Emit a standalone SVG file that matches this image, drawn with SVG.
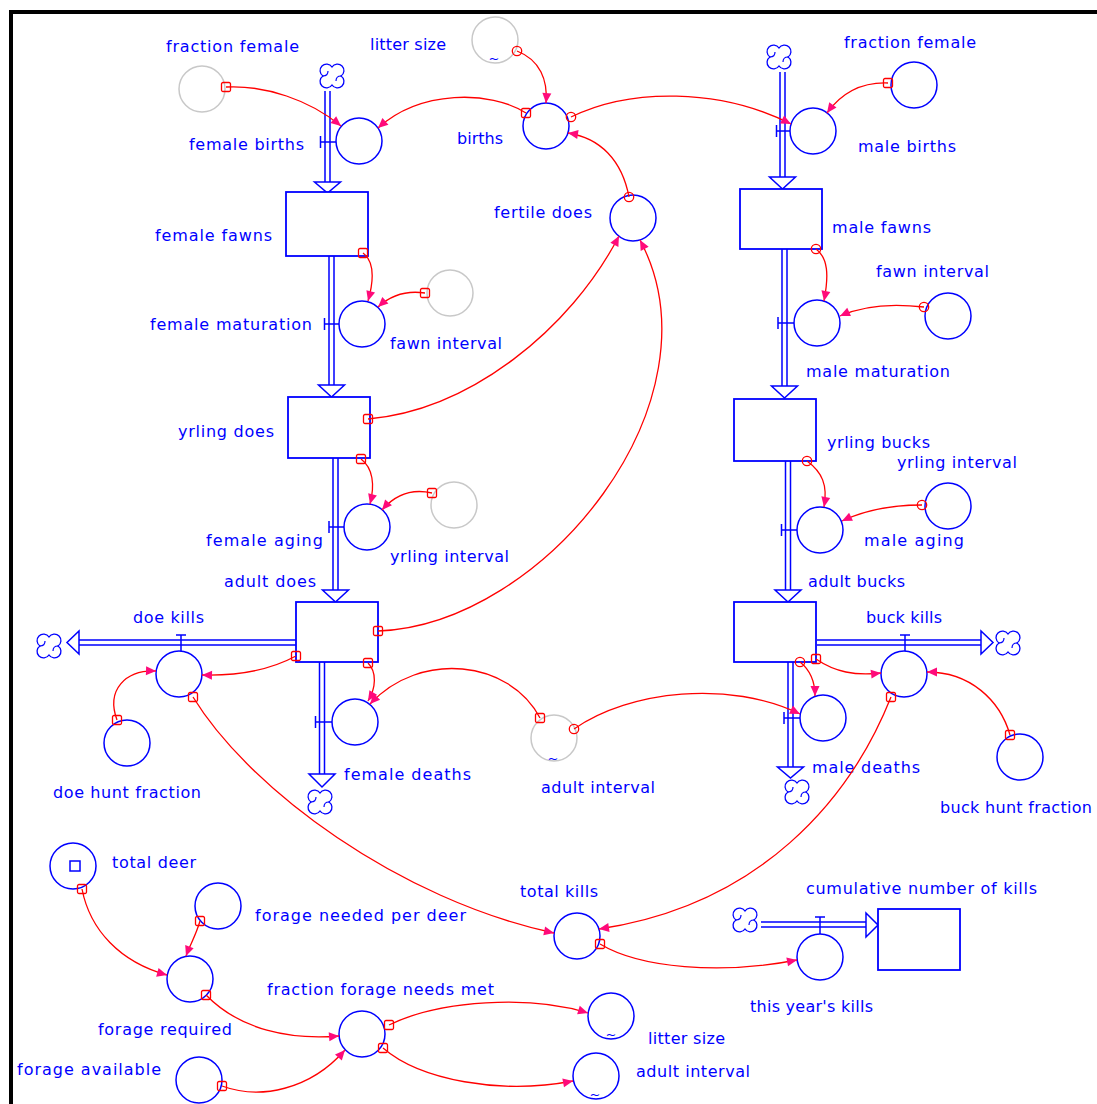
<svg xmlns="http://www.w3.org/2000/svg" width="1097" height="1104" viewBox="0 0 1097 1104">
<defs>
<style>
.t{font-family:"DejaVu Sans","Liberation Sans",sans-serif;font-size:16px;fill:#0000ff}
.tl{font-family:"DejaVu Sans",sans-serif;font-size:13px;fill:#0000ff;text-anchor:middle}
.c{fill:#fff;stroke:#0000ff;stroke-width:1.5}
.g{fill:#fff;stroke:#c8c8c8;stroke-width:1.5}
.s{fill:#fff;stroke:#0000ff;stroke-width:1.8}
.p{fill:none;stroke:#0000ff;stroke-width:1.5}
.ah{fill:#fff;stroke:#0000ff;stroke-width:1.5;stroke-linejoin:miter}
.l{fill:none;stroke:#ff0000;stroke-width:1.3}
.sq{marker-start:url(#ms);marker-end:url(#ma)}
.ci{marker-start:url(#mc);marker-end:url(#ma)}
</style>
<marker id="ma" viewBox="0 0 10 10" refX="10" refY="5" markerWidth="11" markerHeight="10" markerUnits="userSpaceOnUse" orient="auto"><path d="M0,0.5 L10,5 L0,9.5 z" fill="#ff0a7a"/></marker>
<marker id="ms" viewBox="-6 -6 12 12" refX="0" refY="0" markerWidth="12" markerHeight="12" markerUnits="userSpaceOnUse"><rect x="-4.5" y="-4.5" width="9" height="9" rx="1.5" fill="none" stroke="#ff0000" stroke-width="1.3"/></marker>
<marker id="mc" viewBox="-6 -6 12 12" refX="0" refY="0" markerWidth="12" markerHeight="12" markerUnits="userSpaceOnUse"><circle r="4.7" fill="none" stroke="#ff0000" stroke-width="1.3"/></marker>
<g id="cl">
<path d="M0,-9 A6.5,6.5 0 1 1 9,0 A6.5,6.5 0 1 1 0,9 A6.5,6.5 0 1 1 -9,0 A6.5,6.5 0 1 1 0,-9 Z" fill="#fff" stroke="#0000ff" stroke-width="1.3"/>
<path d="M-9,0 q5,0 5,-5 M9,0 q-5,0 -5,5" fill="none" stroke="#0000ff" stroke-width="1.2"/>
</g>
</defs>
<rect width="1097" height="1104" fill="#fff"/>
<path d="M9,12 H1097 M11,10 V1104" stroke="#000" stroke-width="4" fill="none"/>

<g id="cloud-female-births-source"><use href="#cl" transform="translate(332,76)"/></g>
<g id="cloud-male-births-source"><use href="#cl" transform="translate(779,57)"/></g>
<g id="cloud-female-deaths-sink"><use href="#cl" transform="translate(320,802)"/></g>
<g id="cloud-male-deaths-sink"><use href="#cl" transform="translate(797,792)"/></g>
<g id="cloud-doe-kills-sink"><use href="#cl" transform="translate(49,646)"/></g>
<g id="cloud-buck-kills-sink"><use href="#cl" transform="translate(1008,643)"/></g>
<g id="cloud-kills-source"><use href="#cl" transform="translate(745,920)"/></g>

<g id="female-births">
<path class="p" d="M325,91 V182 M330,91 V182"/>
<polygon class="ah" points="314.5,182 340.5,182 327.5,193"/>
<path class="p" d="M320.5,136 V148 M320.5,142 H336"/>
<circle class="c" cx="359" cy="141" r="23"/>
<text class="t" x="189" y="150" textLength="115" lengthAdjust="spacing">female births</text>
</g>
<g id="female-maturation">
<path class="p" d="M329,256 V385 M334,256 V385"/>
<polygon class="ah" points="318.5,385 344.5,385 331.5,397"/>
<path class="p" d="M324.5,318 V330 M324.5,324 H339"/>
<circle class="c" cx="362" cy="324" r="23"/>
<text class="t" x="150" y="330" textLength="162" lengthAdjust="spacing">female maturation</text>
</g>
<g id="female-aging">
<path class="p" d="M333,458 V590 M338,458 V590"/>
<polygon class="ah" points="322.5,590 348.5,590 335.5,602"/>
<path class="p" d="M329,521 V533 M329,527 H344"/>
<circle class="c" cx="367" cy="527" r="23"/>
<text class="t" x="206" y="546" textLength="117" lengthAdjust="spacing">female aging</text>
</g>
<g id="female-deaths">
<path class="p" d="M319.5,662 V774 M324.5,662 V774"/>
<polygon class="ah" points="309,774 335,774 322,787"/>
<path class="p" d="M315.5,716 V728 M315.5,722 H332"/>
<circle class="c" cx="355" cy="722" r="23"/>
<text class="t" x="344" y="780" textLength="127" lengthAdjust="spacing">female deaths</text>
</g>
<g id="male-births">
<path class="p" d="M780,72 V177 M785,72 V177"/>
<polygon class="ah" points="769.5,177 795.5,177 782.5,189"/>
<path class="p" d="M776.5,125 V137 M776.5,131 H790"/>
<circle class="c" cx="813" cy="131" r="23"/>
<text class="t" x="858" y="152" textLength="98" lengthAdjust="spacing">male births</text>
</g>
<g id="male-maturation">
<path class="p" d="M782,249 V386 M787,249 V386"/>
<polygon class="ah" points="771.5,386 797.5,386 784.5,398"/>
<path class="p" d="M778,317 V329 M778,323 H794"/>
<circle class="c" cx="817" cy="323" r="23"/>
<text class="t" x="806" y="377" textLength="144" lengthAdjust="spacing">male maturation</text>
</g>
<g id="male-aging">
<path class="p" d="M785.5,461 V590 M790.5,461 V590"/>
<polygon class="ah" points="775,590 801,590 788,602"/>
<path class="p" d="M781.5,524 V536 M781.5,530 H797"/>
<circle class="c" cx="820" cy="530" r="23"/>
<text class="t" x="864" y="546" textLength="100" lengthAdjust="spacing">male aging</text>
</g>
<g id="male-deaths">
<path class="p" d="M788,662 V767 M793,662 V767"/>
<polygon class="ah" points="777.5,767 803.5,767 790.5,778"/>
<path class="p" d="M784,712 V724 M784,718 H800"/>
<circle class="c" cx="823" cy="718" r="23"/>
<text class="t" x="812" y="773" textLength="108" lengthAdjust="spacing">male deaths</text>
</g>
<g id="doe-kills">
<path class="p" d="M79,640 H296 M79,645 H296"/>
<polygon class="ah" points="79,631 79,654 67,642.5"/>
<path class="p" d="M176,635 H186 M181,635 V651"/>
<circle class="c" cx="179" cy="674" r="23"/>
<text class="t" x="133" y="623" textLength="71" lengthAdjust="spacing">doe kills</text>
</g>
<g id="buck-kills">
<path class="p" d="M817,640 H981 M817,645 H981"/>
<polygon class="ah" points="981,631 981,654 993,642.5"/>
<path class="p" d="M900,635 H910 M905,635 V651"/>
<circle class="c" cx="904" cy="674" r="23"/>
<text class="t" x="866" y="623" textLength="76" lengthAdjust="spacing">buck kills</text>
</g>
<g id="this-years-kills">
<path class="p" d="M761,922 H866 M761,927 H866"/>
<polygon class="ah" points="866,913 866,937 878,925"/>
<path class="p" d="M815,917 H825 M820,917 V934"/>
<circle class="c" cx="820" cy="957" r="23"/>
<text class="t" x="750" y="1012" textLength="123" lengthAdjust="spacing">this year's kills</text>
</g>

<g id="female-fawns"><rect class="s" x="286" y="192" width="82" height="64"/><text class="t" x="155" y="241" textLength="117" lengthAdjust="spacing">female fawns</text></g>
<g id="yrling-does"><rect class="s" x="288" y="397" width="82" height="61"/><text class="t" x="178" y="437" textLength="96" lengthAdjust="spacing">yrling does</text></g>
<g id="adult-does"><rect class="s" x="296" y="602" width="82" height="60"/><text class="t" x="224" y="587" textLength="92" lengthAdjust="spacing">adult does</text></g>
<g id="male-fawns"><rect class="s" x="740" y="189" width="82" height="60"/><text class="t" x="832" y="233" textLength="99" lengthAdjust="spacing">male fawns</text></g>
<g id="yrling-bucks"><rect class="s" x="734" y="399" width="82" height="62"/><text class="t" x="827" y="448" textLength="103" lengthAdjust="spacing">yrling bucks</text></g>
<g id="adult-bucks"><rect class="s" x="734" y="602" width="82" height="60"/><text class="t" x="808" y="587" textLength="97" lengthAdjust="spacing">adult bucks</text></g>
<g id="cumulative-kills"><rect class="s" x="878" y="909" width="82" height="61"/><text class="t" x="806" y="894" textLength="231" lengthAdjust="spacing">cumulative number of kills</text></g>

<g id="fraction-female-ghost"><circle class="g" cx="202" cy="89" r="23"/><text class="t" x="166" y="52" textLength="133" lengthAdjust="spacing">fraction female</text></g>
<g id="litter-size-ghost"><circle class="g" cx="495" cy="40" r="23"/><text class="tl" x="494" y="63">~</text><text class="t" x="370" y="50" textLength="76" lengthAdjust="spacing">litter size</text></g>
<g id="births"><circle class="c" cx="546" cy="126" r="23"/><text class="t" x="457" y="144" textLength="46" lengthAdjust="spacing">births</text></g>
<g id="fraction-female"><circle class="c" cx="914" cy="85" r="23"/><text class="t" x="844" y="48" textLength="132" lengthAdjust="spacing">fraction female</text></g>
<g id="fertile-does"><circle class="c" cx="633" cy="218" r="23"/><text class="t" x="494" y="218" textLength="98" lengthAdjust="spacing">fertile does</text></g>
<g id="fawn-interval-ghost"><circle class="g" cx="450" cy="293" r="23"/><text class="t" x="390" y="349" textLength="112" lengthAdjust="spacing">fawn interval</text></g>
<g id="fawn-interval"><circle class="c" cx="948" cy="316" r="23"/><text class="t" x="876" y="277" textLength="113" lengthAdjust="spacing">fawn interval</text></g>
<g id="yrling-interval-ghost"><circle class="g" cx="454" cy="505" r="23"/><text class="t" x="390" y="562" textLength="119" lengthAdjust="spacing">yrling interval</text></g>
<g id="yrling-interval"><circle class="c" cx="948" cy="506" r="23"/><text class="t" x="897" y="468" textLength="120" lengthAdjust="spacing">yrling interval</text></g>
<g id="adult-interval-ghost"><circle class="g" cx="554" cy="738" r="23"/><text class="tl" x="553" y="763">~</text><text class="t" x="541" y="793" textLength="114" lengthAdjust="spacing">adult interval</text></g>
<g id="doe-hunt-fraction"><circle class="c" cx="127" cy="743" r="23"/><text class="t" x="53" y="798" textLength="148" lengthAdjust="spacing">doe hunt fraction</text></g>
<g id="buck-hunt-fraction"><circle class="c" cx="1020" cy="757" r="23"/><text class="t" x="940" y="813" textLength="152" lengthAdjust="spacing">buck hunt fraction</text></g>
<g id="total-deer"><circle class="c" cx="73" cy="866" r="23"/><rect x="70" y="861" width="10" height="10" fill="none" stroke="#0000ff" stroke-width="1.5"/><text class="t" x="112" y="868" textLength="84" lengthAdjust="spacing">total deer</text></g>
<g id="forage-needed-per-deer"><circle class="c" cx="218" cy="906" r="23"/><text class="t" x="255" y="921" textLength="211" lengthAdjust="spacing">forage needed per deer</text></g>
<g id="forage-required"><circle class="c" cx="190" cy="979" r="23"/><text class="t" x="98" y="1035" textLength="134" lengthAdjust="spacing">forage required</text></g>
<g id="fraction-forage-needs-met"><circle class="c" cx="362" cy="1034" r="23"/><text class="t" x="267" y="995" textLength="227" lengthAdjust="spacing">fraction forage needs met</text></g>
<g id="forage-available"><circle class="c" cx="199" cy="1080" r="23"/><text class="t" x="17" y="1075" textLength="144" lengthAdjust="spacing">forage available</text></g>
<g id="total-kills"><circle class="c" cx="577" cy="936" r="23"/><text class="t" x="520" y="897" textLength="78" lengthAdjust="spacing">total kills</text></g>
<g id="litter-size"><circle class="c" cx="611" cy="1016" r="23"/><text class="tl" x="611" y="1039">~</text><text class="t" x="648" y="1044" textLength="77" lengthAdjust="spacing">litter size</text></g>
<g id="adult-interval"><circle class="c" cx="596" cy="1076" r="23"/><text class="tl" x="595" y="1099">~</text><text class="t" x="636" y="1077" textLength="114" lengthAdjust="spacing">adult interval</text></g>

<g id="connectors">
<path class="l sq" d="M226,87 C265,85 310,100 341,126"/>
<path class="l ci" d="M517,51 C540,60 548,80 546,103"/>
<path class="l sq" d="M526,113 C490,90 420,90 378,128"/>
<path class="l ci" d="M571,117 C630,88 720,88 791,124"/>
<path class="l sq" d="M888,83 C860,82 840,95 827,113"/>
<path class="l ci" d="M629,197 C622,160 600,138 568,133"/>
<path class="l sq" d="M363,253 C375,262 374,280 368,301"/>
<path class="l sq" d="M425,293 C405,290 390,296 378,307"/>
<path class="l ci" d="M816,249 C828,258 829,275 824,301"/>
<path class="l ci" d="M924,307 C890,303 862,306 840,316"/>
<path class="l sq" d="M368,419 C470,410 570,330 619,236"/>
<path class="l sq" d="M378,631 C545,625 725,400 640,240"/>
<path class="l sq" d="M361,459 C373,468 375,485 370,504"/>
<path class="l sq" d="M432,493 C410,488 394,496 382,510"/>
<path class="l ci" d="M807,461 C822,472 828,485 824,507"/>
<path class="l ci" d="M922,505 C890,505 865,510 842,521"/>
<path class="l sq" d="M296,656 C270,670 240,676 202,675"/>
<path class="l sq" d="M117,720 C106,690 125,670 156,671"/>
<path class="l sq" d="M368,663 C377,672 376,688 368,701"/>
<path class="l sq" d="M540,718 C510,660 420,650 370,704"/>
<path class="l ci" d="M574,729 C630,690 730,680 800,714"/>
<path class="l ci" d="M800,662 C810,670 815,682 815,696"/>
<path class="l sq" d="M816,659 C835,672 855,676 881,673"/>
<path class="l sq" d="M1010,735 C1000,700 970,672 927,672"/>
<path class="l sq" d="M193,697 C250,790 400,900 554,933"/>
<path class="l sq" d="M891,697 C850,800 760,905 599,929"/>
<path class="l sq" d="M600,944 C640,968 720,975 797,960"/>
<path class="l sq" d="M82,889 C90,930 120,962 167,975"/>
<path class="l sq" d="M200,921 C196,935 190,945 186,956"/>
<path class="l sq" d="M206,995 C240,1030 290,1040 339,1036"/>
<path class="l sq" d="M222,1086 C260,1100 310,1090 345,1050"/>
<path class="l sq" d="M389,1025 C440,1000 530,995 588,1013"/>
<path class="l sq" d="M383,1048 C420,1080 500,1095 573,1081"/>
</g>
</svg>
